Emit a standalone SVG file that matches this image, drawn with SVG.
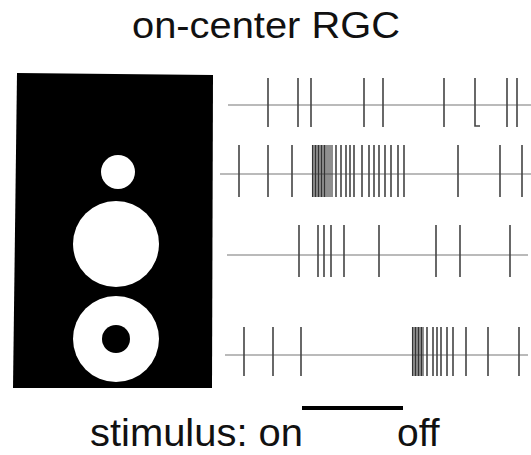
<svg xmlns="http://www.w3.org/2000/svg" width="531" height="455" viewBox="0 0 531 455">
<style>
.txt{font-family:"Liberation Sans",Arial,sans-serif;fill:#111;}
.base{stroke:#777;stroke-width:1.1;fill:none;}
.sp{stroke:#444;stroke-width:1.6;fill:none;}
.dn{stroke:#333;stroke-width:1.1;fill:none;}
</style>
<rect width="531" height="455" fill="#ffffff"/>
<g id="title"><text class="txt" x="132" y="38" font-size="37" textLength="268" lengthAdjust="spacingAndGlyphs">on-center RGC</text></g>
<g id="stimuli">
<polygon points="17,73 213,75 212,388 13,388" fill="#000"/>
<circle cx="118" cy="172" r="17" fill="#fff"/>
<circle cx="116" cy="244" r="43" fill="#fff"/>
<circle cx="116" cy="339" r="43" fill="#fff"/>
<circle cx="116" cy="339" r="14" fill="#000"/>
</g>
<g id="train1">
<line class="base" x1="228" y1="105" x2="531" y2="105"/>
<path class="sp" d="M268,78V127M298,78V127M311,78V127M364,78V127M383,78V127M444,78V127M475,78V126H480M507,78V127M517,78V127"/>
</g>
<g id="train2">
<line class="base" x1="220" y1="174" x2="531" y2="174"/>
<path class="sp" d="M239,145V197M268,145V197M292,145V197M336,145V197M341,145V197M346,145V197M350,145V197M354,145V197M362,145V197M369,145V197M374,145V197M379,145V197M385,145V197M391,145V197M398,145V197M404,145V197M458,145V197M500,145V197M522,145V197"/>
<path class="dn" d="M312.5,145V197M314,145V197M315.5,145V197M317,145V197M318.5,145V197M320,145V197M321.5,145V197M323,145V197M324.5,145V197M326,145V197M328,145V197M330,145V197M332,145V197"/>
</g>
<g id="train3">
<line class="base" x1="227" y1="255" x2="528" y2="255"/>
<path class="sp" d="M299,225V277M318,225V277M324,225V277M331,225V277M344,225V277M379,225V277M436,225V277M460,225V277M510,225V277"/>
</g>
<g id="train4">
<line class="base" x1="225" y1="355" x2="528" y2="355"/>
<path class="sp" d="M244,327V376M273,327V376M301,327V376M427,327V376M433,327V376M437,327V376M441,327V376M447,327V376M453,327V376M466,327V376M488,327V376M519,327V376"/>
<path class="dn" d="M412.5,327V376M414,327V376M415.5,327V376M417,327V376M418.5,327V376M420,327V376M421.5,327V376M423,327V376"/>
</g>
<g id="stimulus-bar"><rect x="302" y="406" width="101" height="4" fill="#000"/></g>
<g id="labels">
<text class="txt" x="90" y="446" font-size="39" textLength="213" lengthAdjust="spacingAndGlyphs">stimulus: on</text>
<text class="txt" x="397" y="446" font-size="39">off</text>
</g>
</svg>
